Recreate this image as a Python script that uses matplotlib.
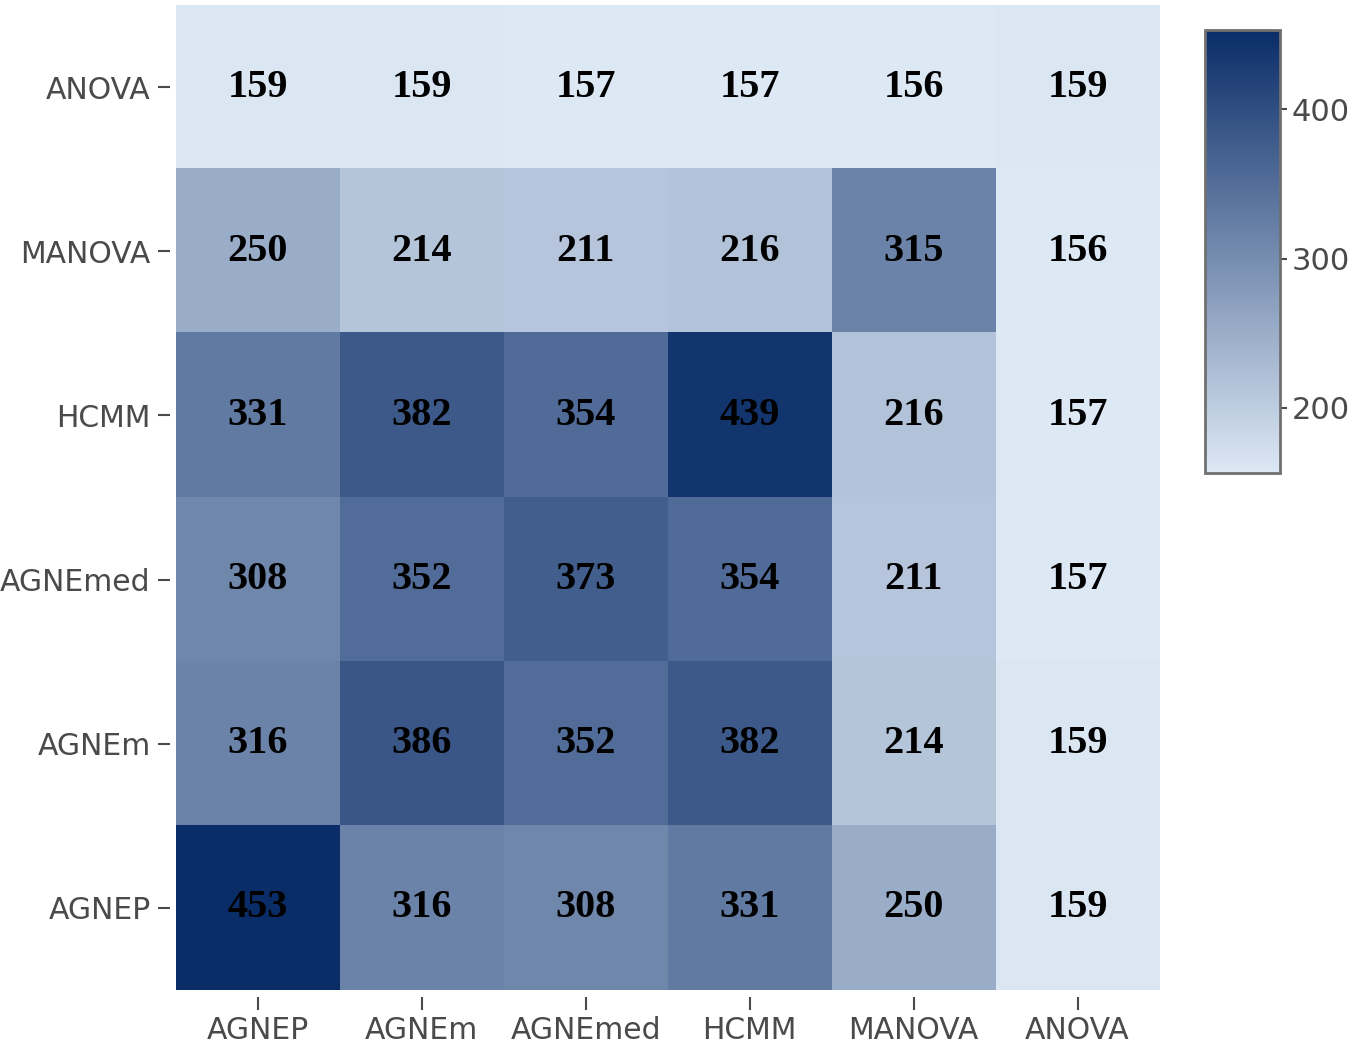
import numpy as np
import matplotlib
matplotlib.use("Agg")
import matplotlib.pyplot as plt
from matplotlib.colors import LinearSegmentedColormap

x_labels = ["AGNEP", "AGNEm", "AGNEmed", "HCMM", "MANOVA", "ANOVA"]
y_labels = ["ANOVA", "MANOVA", "HCMM", "AGNEmed", "AGNEm", "AGNEP"]  # top to bottom

anova_row = [159, 159, 157, 157, 156, 159]
manova_row = [250, 214, 211, 216, 315, 156]
hcmm_row = [331, 382, 354, 439, 216, 157]
agnemed_row = [308, 352, 373, 354, 211, 157]
agnem_row = [316, 386, 352, 382, 214, 159]
agnep_row = [453, 316, 308, 331, 250, 159]

values = np.array([anova_row, manova_row, hcmm_row, agnemed_row, agnem_row, agnep_row])

cmap = LinearSegmentedColormap.from_list("blues", ["#dde8f5", "#0a2d68"])
label_color = "#4a4a4a"

fig = plt.figure(figsize=(13.53, 10.47), dpi=100)
ax = fig.add_axes([0.130, 0.0544, 0.727, 0.9408])
im = ax.imshow(values, cmap=cmap, vmin=156, vmax=453, aspect="auto")

for i in range(values.shape[0]):
    for j in range(values.shape[1]):
        ax.text(j, i, str(values[i, j]), ha="center", va="center",
                fontsize=29, fontweight="bold", family="Liberation Serif", color="black")

ax.set_xticks(range(len(x_labels)))
ax.set_xticklabels(x_labels)
ax.set_yticks(range(len(y_labels)))
ax.set_yticklabels(y_labels)
ax.tick_params(axis="both", labelsize=21.5, colors=label_color, length=9, width=1.5, pad=5)
for s in ax.spines.values():
    s.set_visible(False)
ax.spines["bottom"].set_position(("outward", 5))
ax.spines["left"].set_position(("outward", 4))

cax = fig.add_axes([0.8906, 0.548, 0.0554, 0.423])
cb = fig.colorbar(im, cax=cax, ticks=[200, 300, 400])
cb.outline.set_edgecolor("#707070")
cb.outline.set_linewidth(2)
cb.ax.tick_params(labelsize=22, colors=label_color, length=5, width=1.5)

plt.savefig("out.png", dpi=100)
plt.close()
